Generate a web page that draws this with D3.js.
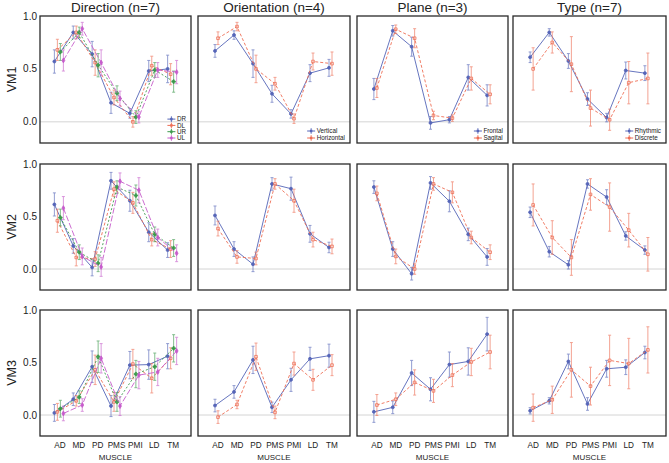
<!DOCTYPE html>
<html><head><meta charset="utf-8">
<script src="https://cdn.jsdelivr.net/npm/d3@7"></script>
<style>body{margin:0;background:#fff;} text{font-family:"Liberation Sans",Arial,sans-serif;fill:#222;}</style>
</head><body><svg id="c" width="669" height="463"></svg>
<script>
const muscles = ["AD","MD","PD","PMS","PMI","LD","TM"];
const yTicks = [0.0, 0.5, 1.0];
const rowLabels = ["VM1","VM2","VM3"];
const panelTitles = ["Direction (n=7)","Orientation (n=4)","Plane (n=3)","Type (n=7)"];
const directionSeries = ["DR","DL","UR","UL"];
const orientationSeries = ["Vertical","Horizontal"];
const planeSeries = ["Frontal","Sagital"];
const typeSeries = ["Rhythmic","Discrete"];

// Direction: rows DR, DL, UR, UL
const direction_VM1_mean = [[0.57,0.845,0.64,0.18,0.08,0.48,0.50],[0.68,0.845,0.56,0.23,0.00,0.53,0.45],[0.66,0.845,0.535,0.27,0.045,0.49,0.38],[0.58,0.88,0.56,0.22,0.045,0.49,0.47]];
const direction_VM1_err  = [[0.11,0.06,0.12,0.10,0.045,0.10,0.13],[0.10,0.06,0.12,0.07,0.05,0.09,0.10],[0.08,0.05,0.11,0.07,0.06,0.07,0.10],[0.10,0.06,0.12,0.07,0.055,0.07,0.11]];
const direction_VM2_mean = [[0.615,0.22,0.015,0.84,0.65,0.35,0.18],[0.46,0.11,0.095,0.76,0.63,0.28,0.19],[0.49,0.16,0.055,0.78,0.70,0.33,0.20],[0.58,0.12,0.02,0.835,0.75,0.30,0.15]];
const direction_VM2_err  = [[0.11,0.07,0.08,0.08,0.10,0.09,0.07],[0.11,0.08,0.07,0.07,0.10,0.06,0.08],[0.08,0.07,0.08,0.06,0.10,0.07,0.08],[0.11,0.08,0.09,0.08,0.12,0.08,0.08]];
const direction_VM3_mean = [[0.02,0.15,0.46,0.085,0.475,0.48,0.56],[0.03,0.135,0.43,0.125,0.485,0.35,0.54],[0.06,0.17,0.555,0.125,0.39,0.46,0.635],[0.015,0.095,0.54,0.085,0.38,0.41,0.61]];
const direction_VM3_err  = [[0.08,0.06,0.15,0.10,0.13,0.14,0.12],[0.08,0.05,0.14,0.09,0.14,0.14,0.10],[0.08,0.06,0.15,0.09,0.13,0.13,0.13],[0.07,0.06,0.14,0.09,0.13,0.13,0.13]];

// Orientation: Vertical, Horizontal
const orientation_VM1_mean = [[0.67,0.82,0.55,0.265,0.075,0.46,0.51],[0.79,0.90,0.50,0.36,0.03,0.57,0.55]];
const orientation_VM1_err  = [[0.06,0.04,0.13,0.08,0.04,0.08,0.08],[0.06,0.04,0.13,0.06,0.045,0.08,0.11]];
const orientation_VM2_mean = [[0.51,0.19,0.045,0.81,0.765,0.335,0.205],[0.385,0.115,0.10,0.81,0.65,0.28,0.215]];
const orientation_VM2_err  = [[0.09,0.07,0.07,0.06,0.11,0.08,0.05],[0.07,0.06,0.06,0.05,0.11,0.07,0.07]];
const orientation_VM3_mean = [[0.09,0.22,0.525,0.073,0.335,0.535,0.565],[-0.02,0.10,0.555,0.025,0.49,0.335,0.475]];
const orientation_VM3_err  = [[0.06,0.06,0.13,0.05,0.11,0.11,0.11],[0.06,0.04,0.13,0.06,0.11,0.10,0.10]];

// Plane: Frontal, Sagital
const plane_VM1_mean = [[0.31,0.86,0.71,-0.01,0.02,0.42,0.25],[0.32,0.875,0.79,0.06,0.035,0.41,0.26]];
const plane_VM1_err  = [[0.10,0.05,0.09,0.06,0.03,0.12,0.10],[0.09,0.04,0.09,0.04,0.03,0.11,0.09]];
const plane_VM2_mean = [[0.78,0.19,-0.045,0.82,0.645,0.33,0.115],[0.72,0.12,0.0,0.81,0.73,0.30,0.16]];
const plane_VM2_err  = [[0.06,0.07,0.06,0.06,0.10,0.06,0.08],[0.07,0.07,0.05,0.06,0.10,0.06,0.07]];
const plane_VM3_mean = [[0.03,0.073,0.40,0.245,0.48,0.51,0.77],[0.095,0.15,0.31,0.23,0.38,0.505,0.60]];
const plane_VM3_err  = [[0.10,0.06,0.12,0.11,0.12,0.13,0.16],[0.10,0.06,0.12,0.11,0.11,0.13,0.16]];

// Type: Rhythmic, Discrete
const type_VM1_mean = [[0.61,0.845,0.575,0.215,0.04,0.485,0.46],[0.50,0.75,0.545,0.13,0.02,0.37,0.41]];
const type_VM1_err  = [[0.05,0.035,0.07,0.06,0.04,0.08,0.07],[0.20,0.10,0.26,0.17,0.10,0.20,0.24]];
const type_VM2_mean = [[0.54,0.165,0.04,0.81,0.685,0.315,0.18],[0.61,0.30,0.11,0.71,0.59,0.37,0.14]];
const type_VM2_err  = [[0.05,0.05,0.04,0.04,0.07,0.04,0.04],[0.20,0.16,0.17,0.15,0.23,0.16,0.16]];
const type_VM3_mean = [[0.04,0.135,0.51,0.105,0.44,0.455,0.595],[0.07,0.145,0.43,0.275,0.52,0.49,0.62]];
const type_VM3_err  = [[0.03,0.03,0.07,0.06,0.08,0.07,0.06],[0.13,0.13,0.26,0.18,0.24,0.24,0.22]];

const columns = [
  {series: directionSeries, rows: [[direction_VM1_mean,direction_VM1_err],[direction_VM2_mean,direction_VM2_err],[direction_VM3_mean,direction_VM3_err]]},
  {series: orientationSeries, rows: [[orientation_VM1_mean,orientation_VM1_err],[orientation_VM2_mean,orientation_VM2_err],[orientation_VM3_mean,orientation_VM3_err]]},
  {series: planeSeries, rows: [[plane_VM1_mean,plane_VM1_err],[plane_VM2_mean,plane_VM2_err],[plane_VM3_mean,plane_VM3_err]]},
  {series: typeSeries, rows: [[type_VM1_mean,type_VM1_err],[type_VM2_mean,type_VM2_err],[type_VM3_mean,type_VM3_err]]}
];

const colors4 = ["#5565b8","#ee6e55","#3d9a4d","#c65ccb"];
const dashes4 = [null,"3,2","2,2","6,2"];
const offsets4 = [-4.5,-1.5,1.5,4.5];
const offsets2 = [-2,1];
const symbols4 = [d3.symbolCircle, d3.symbolSquare, d3.symbolCross, d3.symbolDiamond];

const colX = [[40,191],[198,350],[357,508],[513,666]];
const rowY = [[16,143],[164,290],[310,436]];

const svg = d3.select("#c");

columns.forEach((col, ci) => {
  const [x0, x1] = colX[ci];
  svg.append("text").attr("x", (x0 + x1) / 2).attr("y", 12).attr("text-anchor", "middle")
    .attr("font-size", 13.5).text(panelTitles[ci]);
  const ns = col.series.length;
  const offs = ns === 4 ? offsets4 : offsets2;
  col.rows.forEach((rd, ri) => {
    const [y0, y1] = rowY[ri];
    const x = d3.scalePoint().domain(muscles).range([x0, x1]).padding(1);
    const y = d3.scaleLinear().domain([-0.2, 1.0]).range([y1, y0]);
    const g = svg.append("g");
    g.append("line").attr("x1", x0).attr("x2", x1).attr("y1", y(0)).attr("y2", y(0))
      .attr("stroke", "#d4d4d4").attr("stroke-width", 1);
    const [means, errs] = rd;
    col.series.forEach((s, si) => {
      const c = colors4[si];
      const pts = muscles.map((m, mi) => ({x: x(m) + offs[si], v: means[si][mi], e: errs[si][mi]}));
      const eg = g.append("g").attr("stroke", c).attr("stroke-width", 0.9).attr("opacity", 0.7);
      pts.forEach(p => {
        eg.append("line").attr("x1", p.x).attr("x2", p.x).attr("y1", y(p.v - p.e)).attr("y2", y(p.v + p.e));
        eg.append("line").attr("x1", p.x - 1.5).attr("x2", p.x + 1.5).attr("y1", y(p.v - p.e)).attr("y2", y(p.v - p.e));
        eg.append("line").attr("x1", p.x - 1.5).attr("x2", p.x + 1.5).attr("y1", y(p.v + p.e)).attr("y2", y(p.v + p.e));
      });
      const line = d3.line().x(p => p.x).y(p => y(p.v));
      g.append("path").attr("d", line(pts)).attr("fill", "none").attr("stroke", c)
        .attr("stroke-width", 0.9).attr("stroke-dasharray", dashes4[si]);
      pts.forEach(p => {
        g.append("path").attr("d", d3.symbol().type(symbols4[si]).size(si === 0 ? 7 : 7)())
          .attr("transform", `translate(${p.x},${y(p.v)})`)
          .attr("fill", si === 1 ? "#fff" : c).attr("fill-opacity", si === 1 ? 0.3 : 1)
          .attr("stroke", c).attr("stroke-width", 0.8);
      });
    });
    g.append("rect").attr("x", x0).attr("y", y0).attr("width", x1 - x0).attr("height", y1 - y0)
      .attr("fill", "none").attr("stroke", "#2a2a2a").attr("stroke-width", 1.3);
    if (ci === 0) {
      yTicks.forEach(t => {
        svg.append("text").attr("x", 37).attr("y", y(t) + 3.5).attr("text-anchor", "end")
          .attr("font-size", 10).text(t.toFixed(1));
      });
      svg.append("text").attr("transform", `translate(16,${(y0 + y1) / 2}) rotate(-90)`)
        .attr("text-anchor", "middle").attr("font-size", 12.5).text(rowLabels[ri]);
    }
    if (ri === 2) {
      muscles.forEach(m => {
        svg.append("text").attr("x", x(m) + 1).attr("y", y1 + 12).attr("text-anchor", "middle")
          .attr("font-size", 8.2).text(m);
      });
      svg.append("text").attr("x", (x0 + x1) / 2).attr("y", y1 + 24).attr("text-anchor", "middle")
        .attr("font-size", 8).text("MUSCLE");
    }
    if (ri === 0) {
      const lg = g.append("g");
      const sp = ns === 4 ? 6.3 : 7;
      const texts = col.series.map((s, si) => lg.append("text")
        .attr("x", 0).attr("y", y1 - 5 - (ns - 1 - si) * sp + 2.2)
        .attr("font-size", 6.3).text(s));
      const maxW = d3.max(texts, t => t.node().getComputedTextLength());
      const tx = x1 - 5 - maxW;
      texts.forEach(t => t.attr("x", tx));
      col.series.forEach((s, si) => {
        const cy = y1 - 5 - (ns - 1 - si) * sp;
        const cx = tx - 5.5;
        const c = colors4[si];
        lg.append("line").attr("x1", cx - 4).attr("x2", cx + 4).attr("y1", cy).attr("y2", cy)
          .attr("stroke", c).attr("stroke-width", 1);
        lg.append("line").attr("x1", cx).attr("x2", cx).attr("y1", cy - 2.8).attr("y2", cy + 2.8)
          .attr("stroke", c).attr("stroke-width", 0.9);
        lg.append("path").attr("d", d3.symbol().type(d3.symbolSquare).size(6)())
          .attr("transform", `translate(${cx},${cy})`).attr("fill", c);
      });
    }
  });
});
</script></body></html>
